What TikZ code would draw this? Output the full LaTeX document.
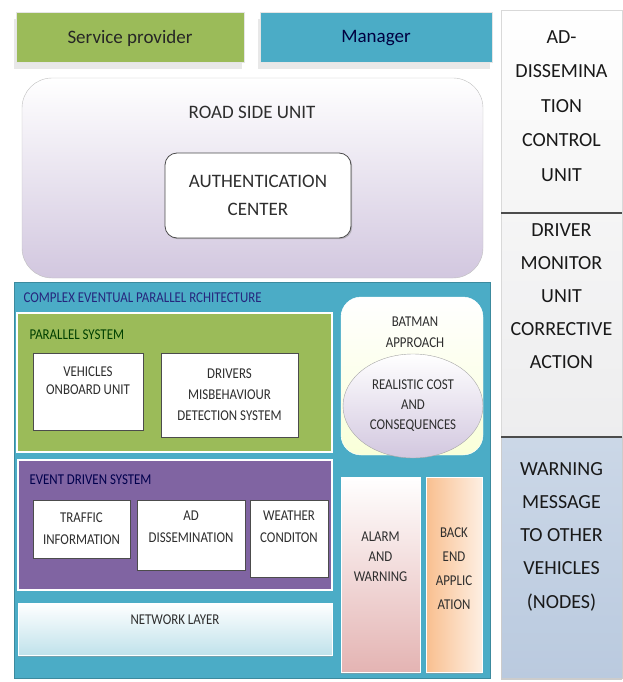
\documentclass[tikz,border=0pt]{standalone}
\usepackage{fontspec}
\setmainfont{Carlito}
\newfontfamily\condfont[FakeStretch=0.86]{Carlito}
\usetikzlibrary{shapes.geometric,shadows,positioning}

\definecolor{spgreen}{HTML}{9BBB59}
\definecolor{mgblue}{HTML}{4BACC6}
\definecolor{evpurple}{HTML}{8064A2}
\definecolor{txtgray}{HTML}{2E2E2E}
\definecolor{lavender}{HTML}{D2C7DF}
\definecolor{steel}{HTML}{BACADF}
\definecolor{alarmpink}{HTML}{E4B4B3}
\definecolor{peach}{HTML}{F9BF8F}

\begin{document}
\begin{tikzpicture}[x=1pt,y=-1pt,
  blk/.style={rectangle,inner sep=0pt,outer sep=0pt},
  wbox/.style={blk,fill=white,draw=black!70,line width=0.8pt,
    drop shadow={shadow xshift=1.2pt,shadow yshift=-1.2pt,fill=black!45}},
  topbox/.style={blk,minimum height=50pt,draw=black!10,line width=1pt,
    drop shadow={shadow xshift=-2pt,shadow yshift=-6pt,fill=black!18}},
  lbl/.style={font=\condfont\fontsize{15}{#1}\selectfont,text=txtgray,align=center},
  lbl/.default=18,
  big/.style={font=\fontsize{19}{28}\selectfont,text=txtgray,align=center},
  side/.style={font=\fontsize{20}{#1}\selectfont,text=black!90,align=center},
  head/.style={font=\condfont\fontsize{15}{17}\selectfont,anchor=west}]
\useasboundingbox (0,0) rectangle (622,682);

% top row
\node[topbox,fill=spgreen,minimum width=228pt,font=\fontsize{19}{22}\selectfont,text=black!85] (sp) at (130,38) {Service provider};
\node[topbox,fill=mgblue,minimum width=232pt,font=\fontsize{19}{22}\selectfont,text=black!75!blue] (mgr) at (376,38) {Manager};

% right column
\node[blk,minimum width=121pt,minimum height=203pt,top color=white,bottom color=black!4,draw=black!15] (adc) at (561.5,111.5) {};
\node[blk,minimum width=121pt,minimum height=224pt,top color=blue!4!black!4,bottom color=blue!7!black!7,draw=black!15] (dmu) at (561.5,325) {};
\node[blk,minimum width=121pt,minimum height=241pt,top color=steel!75,bottom color=steel,draw=black!20,
  drop shadow={shadow xshift=0pt,shadow yshift=-1.5pt,fill=black!40}] (wmo) at (561.5,557.5) {};
\draw[line width=1.8pt,black!70] (adc.south west) -- (adc.south east);
\draw[line width=1.8pt,black!70] (dmu.south west) -- (dmu.south east);
\node[side=34.5] (adct) at (561.5,106) {AD-\\DISSEMINA\\TION\\CONTROL\\UNIT};
\node[side=33] (dmut) at (561.5,296) {DRIVER\\MONITOR\\UNIT\\CORRECTIVE\\ACTION};
\node[side=33.3] (wmot) at (561.5,536.5) {WARNING\\MESSAGE\\TO OTHER\\VEHICLES\\(NODES)};

% road side unit
\node[blk,rounded corners=30pt,minimum width=461pt,minimum height=200pt,top color=white,bottom color=lavender,draw=black!25] (rsu) at (252.5,178) {};
\node[big] (rsut) at (252,112) {ROAD SIDE UNIT};
\node[wbox,rounded corners=12pt,minimum width=186pt,minimum height=85pt,big] (auth) at (258,195.5) {AUTHENTICATION\\CENTER};

% complex eventual parallel architecture
\node[blk,minimum width=476pt,minimum height=396pt,fill=mgblue,draw=mgblue!80!black] (cepa) at (252,480) {};
\node[head,text=blue!40!black!85] (cepat) at (20,298) {COMPLEX EVENTUAL PARALLEL RCHITECTURE};

\node[blk,minimum width=315pt,minimum height=139pt,fill=spgreen,draw=white,line width=1.5pt] (par) at (174.5,382.5) {};
\node[head,text=green!25!black] (part) at (26,335) {PARALLEL SYSTEM};
\node[wbox,minimum width=110pt,minimum height=77pt] (veh) at (88,391.5) {};
\node[lbl] (veht) at (88,381) {VEHICLES\\ONBOARD UNIT};
\node[wbox,minimum width=137pt,minimum height=84pt,lbl=21] (drv) at (229.5,395) {DRIVERS\\MISBEHAVIOUR\\DETECTION SYSTEM};

\node[blk,minimum width=314pt,minimum height=130pt,fill=evpurple,draw=white,line width=1.5pt] (evt) at (175,525) {};
\node[head,text=blue!30!black] (evtt) at (26,480) {EVENT DRIVEN SYSTEM};
\node[wbox,minimum width=97pt,minimum height=58pt,lbl=22] (trf) at (81.5,529) {TRAFFIC\\INFORMATION};
\node[wbox,minimum width=108pt,minimum height=70pt] (adn) at (191,535) {};
\node[lbl=22] (adnt) at (191,527) {AD\\DISSEMINATION};
\node[wbox,minimum width=78pt,minimum height=77pt] (wth) at (289,538.5) {};
\node[lbl=22] (wtht) at (289,527) {WEATHER\\CONDITON};

\node[blk,minimum width=314pt,minimum height=52pt,top color=white,bottom color=mgblue!35,draw=white,line width=1pt,
  drop shadow={shadow xshift=0pt,shadow yshift=-1.5pt,fill=black!40}] (net) at (175,629) {};
\node[lbl] (nett) at (175,620) {NETWORK LAYER};

% batman approach
\node[blk,rounded corners=20pt,minimum width=142pt,minimum height=158pt,top color=white,bottom color=green!15!yellow!15,draw=white] (bat) at (412,376) {};
\node[lbl=21] (batt) at (415,332) {BATMAN\\APPROACH};
\node[ellipse,inner sep=0pt,minimum width=140pt,minimum height=104pt,top color=white,bottom color=lavender,draw=black!35,lbl=20] (rcc) at (413,406) {REALISTIC COST\\AND\\CONSEQUENCES};

% alarm and back end
\node[blk,minimum width=79pt,minimum height=195pt,top color=white,bottom color=alarmpink,draw=white,
  drop shadow={shadow xshift=0pt,shadow yshift=-1.5pt,fill=black!40}] (alm) at (380.5,574.5) {};
\node[lbl=20] (almt) at (380.5,557) {ALARM\\AND\\WARNING};
\node[blk,minimum width=56pt,minimum height=195pt,left color=peach,right color=peach!25,draw=white,
  drop shadow={shadow xshift=0pt,shadow yshift=-1.5pt,fill=black!40}] (bck) at (454,574.5) {};
\node[lbl=24] (bckt) at (454,569) {BACK\\END\\APPLIC\\ATION};
\end{tikzpicture}
\end{document}
